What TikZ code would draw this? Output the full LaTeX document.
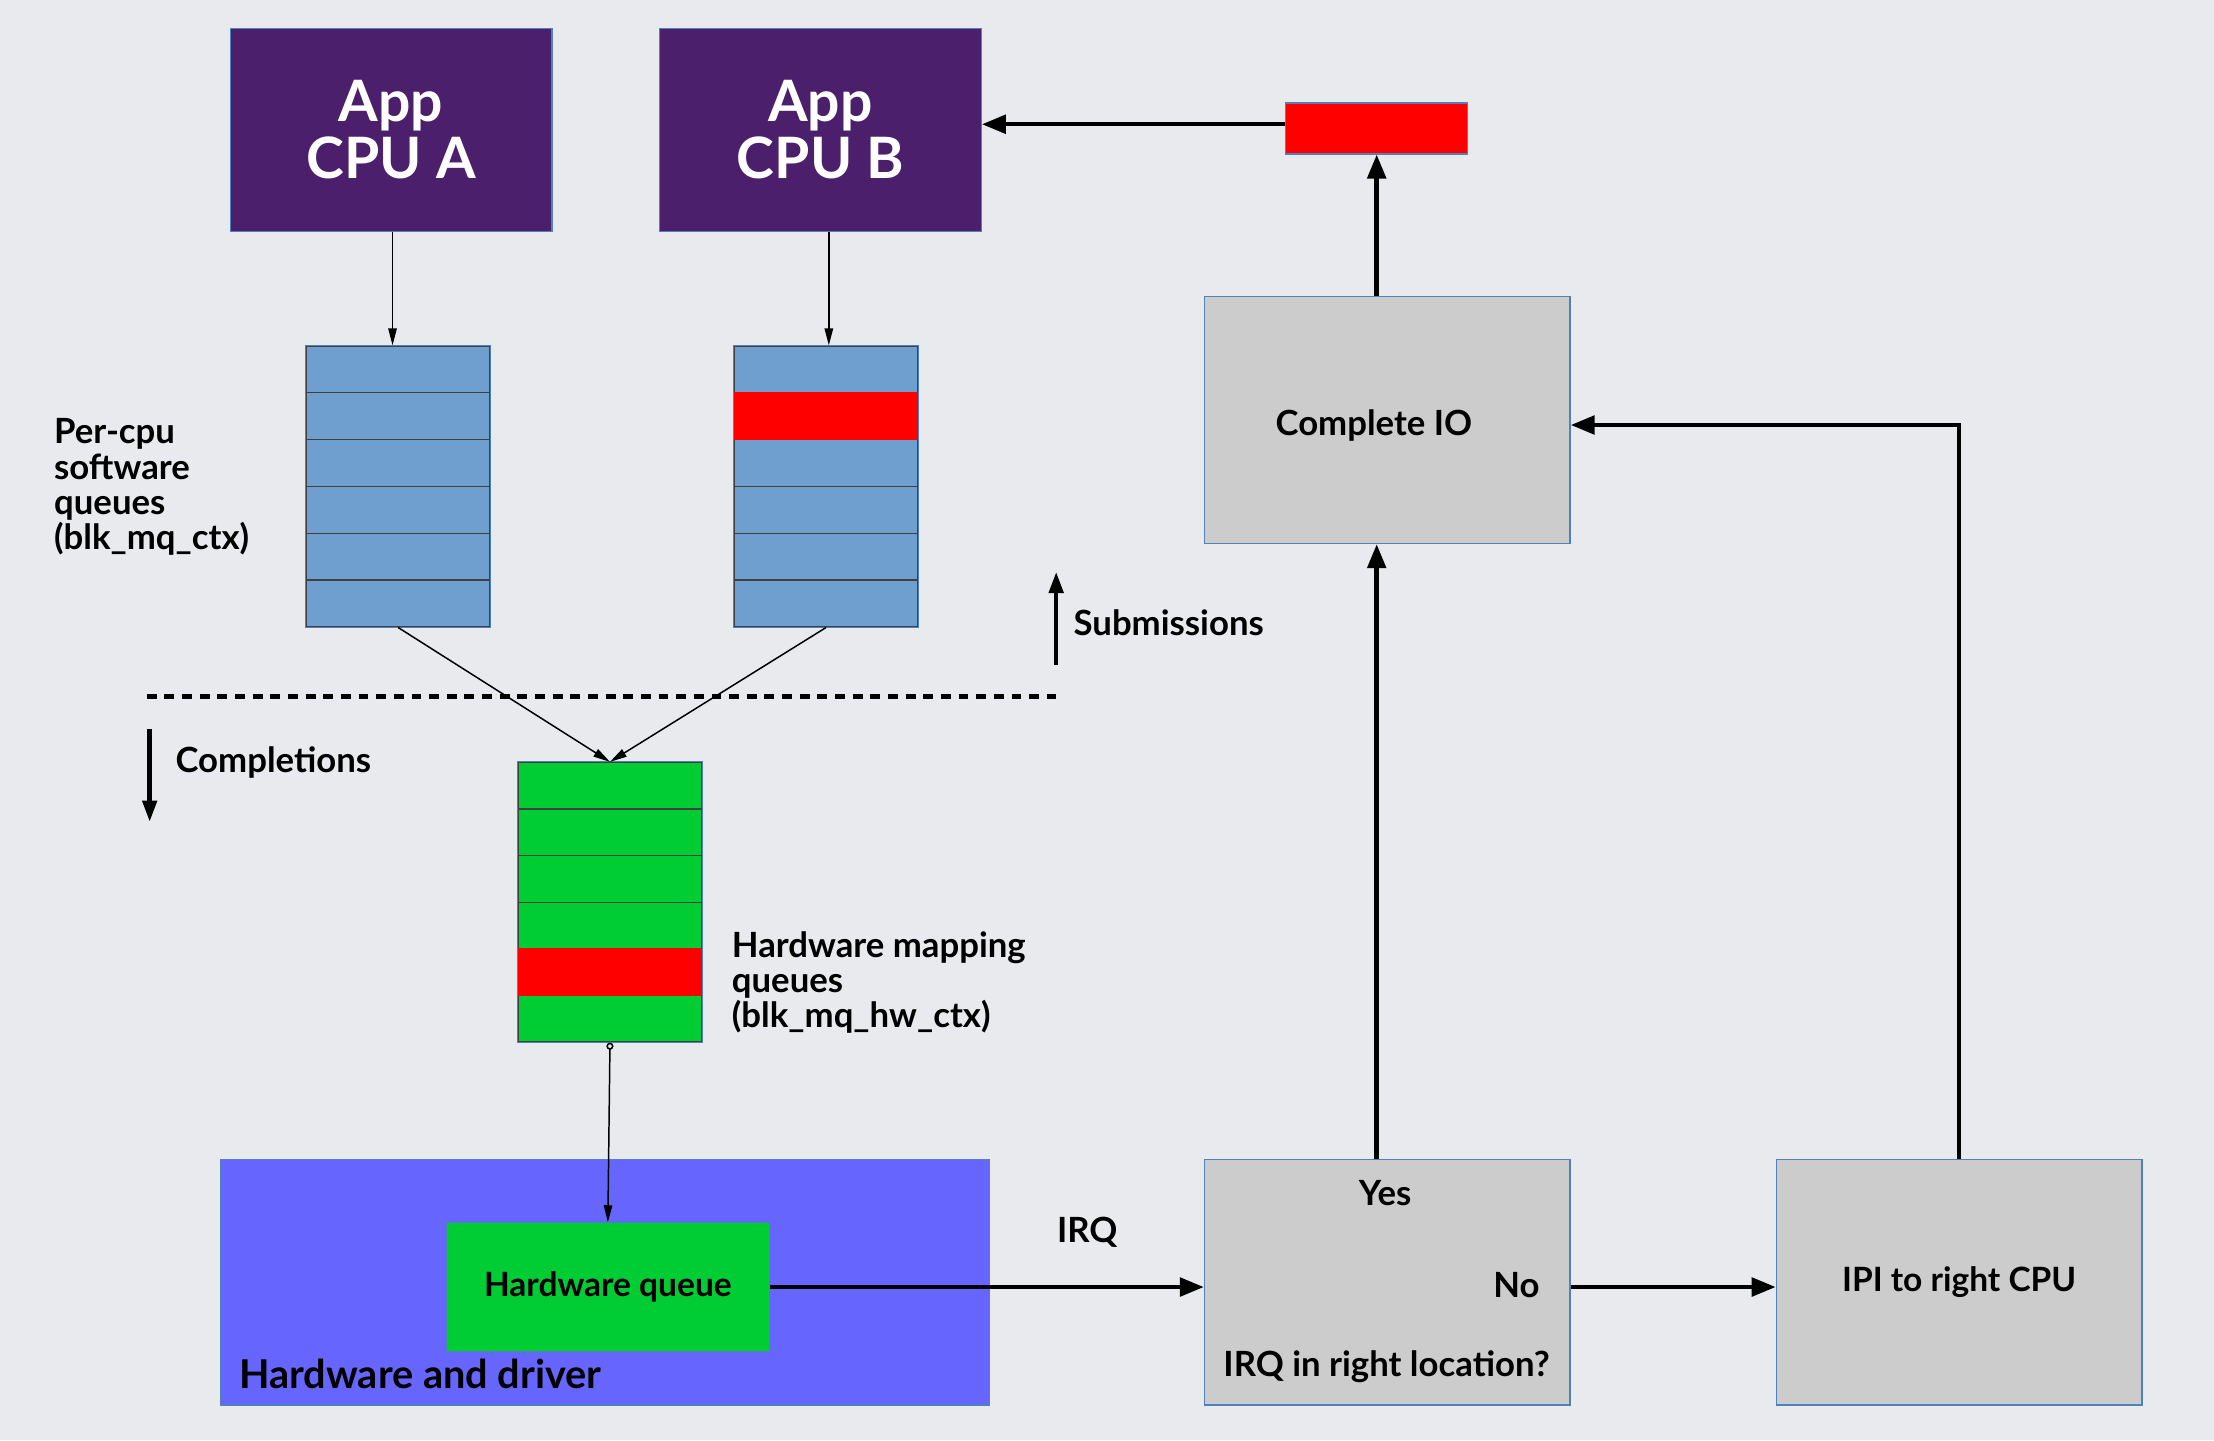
\documentclass[tikz,border=0pt]{standalone}
\usepackage{fontspec}
\setmainfont{Lato}
\usetikzlibrary{arrows.meta,positioning}
\definecolor{bgcol}{RGB}{232,234,237}
\definecolor{cpupurple}{RGB}{75,31,107}
\definecolor{swblue}{RGB}{111,159,207}
\definecolor{qgreen}{RGB}{0,204,51}
\definecolor{donered}{RGB}{255,0,0}
\definecolor{stepgrey}{RGB}{204,204,204}
\definecolor{hwblue}{RGB}{102,102,255}
\definecolor{edgeblue}{RGB}{79,129,189}
\tikzset{>={Triangle[length=0.24cm,width=0.12cm]}}
\tikzset{
  box/.style={draw=edgeblue,line width=0.5pt,inner sep=0pt},
  cpubox/.style={box,fill=cpupurple,text=white,align=center,
    minimum width=4.56cm,minimum height=2.88cm,
    font=\fontsize{23}{23}\selectfont\bfseries},
  stepbox/.style={box,fill=stepgrey,minimum width=5.18cm,minimum height=3.48cm},
  cell/.style={draw=black!75,line width=0.5pt,minimum width=2.6cm,inner sep=0pt},
  lbl/.style={inner sep=0pt,align=left,font=\fontsize{14}{14.2}\selectfont\bfseries},
  thin/.style={->,line width=0.6pt},
  fat/.style={-{Triangle[length=0.34cm,width=0.26cm]},line width=1.8pt},
  mark arrow/.style={-{Triangle[length=0.3cm,width=0.2cm]},line width=1.8pt}
}
\begin{document}
\begin{tikzpicture}[x=0.02cm,y=-0.02cm]
\fill [bgcol] (0,0) rectangle (1568,1020);
\useasboundingbox (0,0) rectangle (1568,1020);

% apps
\node [cpubox] (cpua) at (277,92) {App\\CPU A};
\node [cpubox] (cpub) at (581,92) {App\\CPU B};

% per-cpu software queues
\foreach \i in {1,...,6} {
  \node [cell,fill=swblue,minimum height=0.663cm] (swa-\i) at (282,{228.4+33.17*\i}) {};
  \node [cell,fill=swblue,minimum height=0.663cm] (swb-\i) at (585,{228.4+33.17*\i}) {};
}
\fill [donered] (swb-2.north west) rectangle (swb-2.south east);
\draw [edgeblue,line width=0.5pt] (swa-1.north west) rectangle (swa-6.south east);
\draw [edgeblue,line width=0.5pt] (swb-1.north west) rectangle (swb-6.south east);

% hardware mapping queue
\foreach \i in {1,...,6}
  \node [cell,fill=qgreen,minimum height=0.66cm] (hwm-\i) at (432,{523.5+33*\i}) {};
\fill [donered] (hwm-5.north west) rectangle (hwm-5.south east);
\draw [edgeblue,line width=0.5pt] (hwm-1.north west) rectangle (hwm-6.south east);

% hardware
\node [box,fill=hwblue,minimum width=10.9cm,minimum height=3.48cm] (hwd) at (428.5,908) {};
\node [lbl,anchor=west,font=\fontsize{16}{16}\selectfont\bfseries] (hwdl) at (169,973) {Hardware and driver};
\node [box,fill=qgreen,minimum width=4.58cm,minimum height=1.82cm,font=\fontsize{13.5}{14}\selectfont\bfseries] (hwq) at (430.5,911.5) {Hardware queue};

% completion path
\node [stepbox] (irq) at (982.5,908) {};
\node [stepbox,font=\fontsize{13.5}{14}\selectfont\bfseries] (ipi) at (1387.5,908) {IPI to right CPU};
\node [stepbox,minimum height=3.5cm] (cio) at (982.5,297.5) {};
\node [lbl] (ciol) at (973,301) {Complete IO};
\node [box,fill=donered,minimum width=2.58cm,minimum height=0.72cm] (done) at (975,91) {};
\node [lbl] (yes) at (981,845) {Yes};
\node [lbl] (no) at (1074,910) {No};
\node [lbl] (where) at (982,968) {IRQ in right location?};

% labels
\node [lbl,anchor=west] (swl) at (38,345) {Per-cpu\\software\\queues\\(blk\_mq\_ctx)};
\node [lbl,anchor=west] (hwml) at (518,696) {Hardware mapping\\queues\\(blk\_mq\_hw\_ctx)};
\node [lbl,anchor=west] (subl) at (760,441) {Submissions};
\node [lbl,anchor=west] (coml) at (124,540) {Completions};
\node [lbl] (irql) at (770,873) {IRQ};

% direction markers
\coordinate (subfrom) at (748,471);
\coordinate (subto) at (748,405);
\coordinate (comfrom) at (106,516);
\coordinate (comto) at (106,582);
\draw [mark arrow] (subfrom) -- (subto);
\draw [mark arrow] (comfrom) -- (comto);
\draw [line width=2pt,dash pattern=on 0.14cm off 0.11cm] (104,493) -- (748,493);

% submission flow
\draw [thin] ([xshift=0.02cm]cpua.south) -- ([xshift=0.02cm]cpua.south |- swa-1.north);
\draw [thin] ([xshift=0.12cm]cpub.south) -- ([xshift=0.12cm]cpub.south |- swb-1.north);
\draw [thin] (swa-6.south) -- (hwm-1.north);
\draw [thin] (swb-6.south) -- (hwm-1.north);
\draw [thin,{Circle[open,length=0.1cm]}->] (hwm-6.south) -- (hwq.north);

% completion flow
\draw [fat] (hwq.east) -- (hwq.east -| irq.west);
\draw [fat] (irq.east |- hwq.east) -- (ipi.west |- hwq.east);
\draw [fat] (done |- irq.north) -- (done |- cio.south);
\draw [fat] (ipi.north) |- (cio.east |- ciol);
\draw [fat] (done |- cio.north) -- (done.south);
\draw [fat] ([yshift=0.06cm]done.west) -- ([yshift=0.06cm]done.west -| cpub.east);
\end{tikzpicture}
\end{document}
